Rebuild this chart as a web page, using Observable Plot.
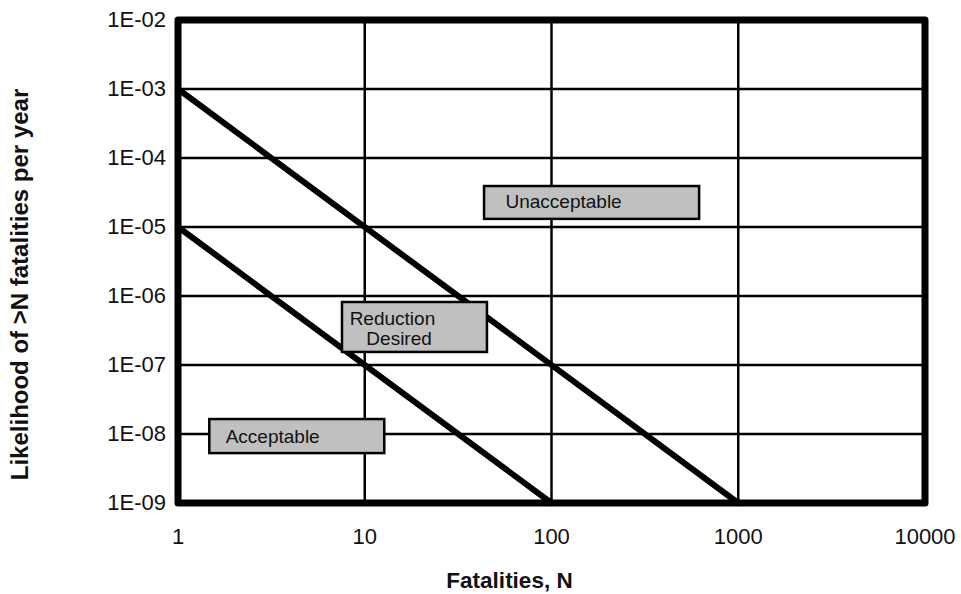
<!DOCTYPE html>
<html>
<head>
<meta charset="utf-8">
<script src="https://cdn.jsdelivr.net/npm/d3@7"></script>
<script src="https://cdn.jsdelivr.net/npm/@observablehq/plot@0.6"></script>
<style>
  html, body { margin: 0; padding: 0; background: #fff; }
  #chart svg { display: block; }
</style>
</head>
<body>
<div id="chart"></div>
<script>
// Axis ticks (log scales)
const xTicks = [1, 10, 100, 1000, 10000];
const xTickLabels = ["1", "10", "100", "1000", "10000"];
const yTicks = [1e-2, 1e-3, 1e-4, 1e-5, 1e-6, 1e-7, 1e-8, 1e-9];
const yTickLabels = ["1E-02", "1E-03", "1E-04", "1E-05", "1E-06", "1E-07", "1E-08", "1E-09"];

// Societal risk criterion lines (F-N curves): upper and lower limits
const upperLimitN = [1, 1000];
const upperLimitF = [1e-3, 1e-9];
const lowerLimitN = [1, 100];
const lowerLimitF = [1e-5, 1e-9];

// Region label boxes: N range and frequency range
const regionNames = ["Acceptable", "Reduction Desired", "Unacceptable"];
const boxN1 = [1.48, 7.6, 43.8];
const boxN2 = [12.8, 45.4, 621];
const boxF1 = [1.62e-8, 8.05e-7, 3.86e-5];
const boxF2 = [5.2e-9, 1.52e-7, 1.29e-5];

// Text lines inside the boxes
const labelText = ["Acceptable", "Reduction", "Desired", "Unacceptable"];
const labelN = [1.80, 8.3, 10.2, 56.7];
const labelF = [9.0e-9, 4.60e-7, 2.42e-7, 2.34e-5];

const upper = upperLimitN.map((n, i) => ({n, f: upperLimitF[i]}));
const lower = lowerLimitN.map((n, i) => ({n, f: lowerLimitF[i]}));
const boxes = regionNames.map((name, i) => ({name, n1: boxN1[i], n2: boxN2[i], f1: boxF1[i], f2: boxF2[i]}));
const labels = labelText.map((text, i) => ({text, n: labelN[i], f: labelF[i]}));
const xTickData = xTicks.map((v, i) => ({v, label: xTickLabels[i]}));
const yTickData = yTicks.map((v, i) => ({v, label: yTickLabels[i]}));

const font = "'Liberation Sans', Arial, sans-serif";
const ink = "#111";

const chart = Plot.plot({
  width: 961,
  height: 594,
  marginLeft: 177.5,
  marginRight: 36.5,
  marginTop: 19.5,
  marginBottom: 91.5,
  style: {fontFamily: font, color: ink, background: "#fff", overflow: "visible"},
  x: {type: "log", domain: [1, 10000], axis: null},
  y: {type: "log", domain: [1e-9, 1e-2], axis: null},
  marks: [
    Plot.gridX(xTicks, {stroke: "#000", strokeOpacity: 1, strokeWidth: 2.5}),
    Plot.gridY(yTicks, {stroke: "#000", strokeOpacity: 1, strokeWidth: 2.5}),
    Plot.line(upper, {x: "n", y: "f", stroke: "#000", strokeWidth: 6}),
    Plot.line(lower, {x: "n", y: "f", stroke: "#000", strokeWidth: 6}),
    Plot.rect(boxes, {x1: "n1", x2: "n2", y1: "f1", y2: "f2", fill: "#c0c0c0", stroke: "#000", strokeWidth: 2.5}),
    Plot.text(labels, {x: "n", y: "f", text: "text", textAnchor: "start", lineAnchor: "middle", fontSize: 19, fill: ink}),
    Plot.frame({stroke: "#000", strokeWidth: 7, strokeLinejoin: "round"}),
    // tick labels
    Plot.text(xTickData, {x: "v", text: "label", frameAnchor: "bottom", lineAnchor: "top", textAnchor: "middle", dy: 25.5, fontSize: 22, fill: ink}),
    Plot.text(yTickData, {y: "v", text: "label", frameAnchor: "left", lineAnchor: "middle", textAnchor: "end", dx: -12, fontSize: 22, fill: ink}),
    // axis titles
    Plot.text(["Fatalities, N"], {frameAnchor: "bottom", textAnchor: "middle", dx: -42, dy: 78, text: d => d, fontSize: 22.5, fontWeight: "bold", lineAnchor: "middle", fill: ink}),
    Plot.text(["Likelihood of >N fatalities per year"], {frameAnchor: "left", textAnchor: "middle", rotate: -90, dx: -158, dy: 23, text: d => d, fontSize: 24, fontWeight: "bold", lineAnchor: "middle", fill: ink})
  ]
});

document.getElementById("chart").appendChild(chart);
</script>
</body>
</html>
